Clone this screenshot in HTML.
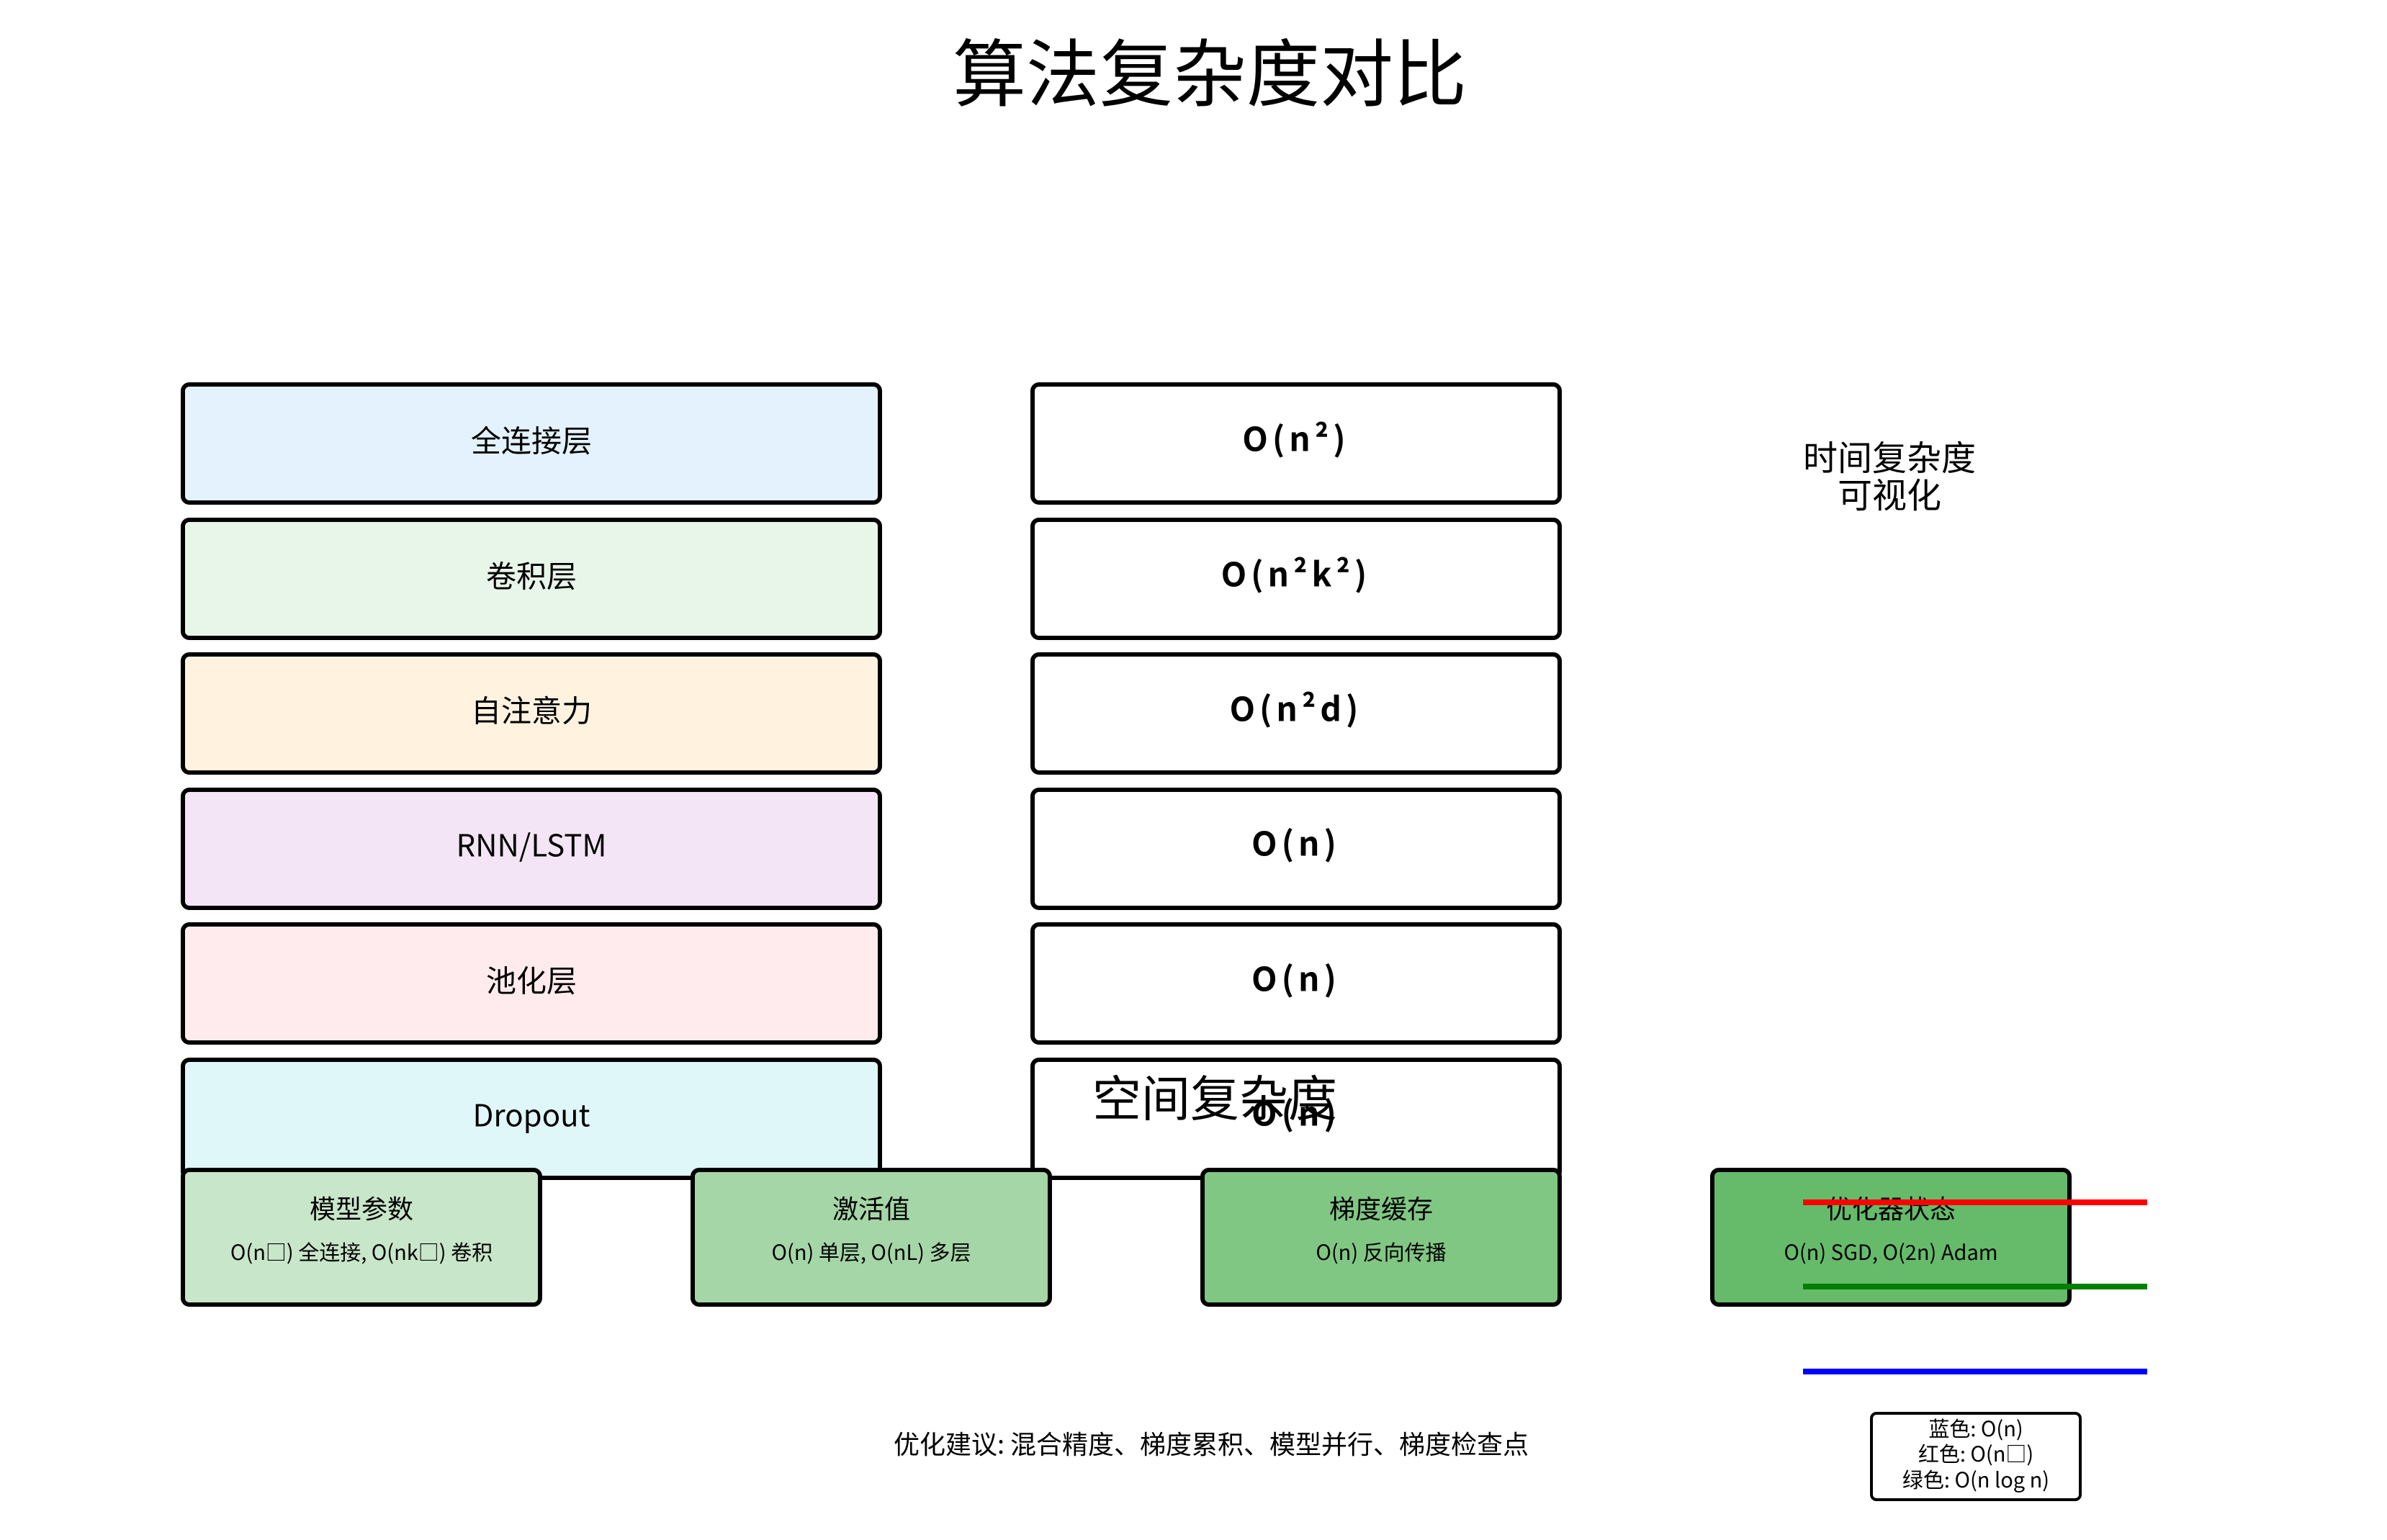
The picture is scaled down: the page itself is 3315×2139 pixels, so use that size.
<!DOCTYPE html>
<html><head><meta charset="utf-8"><style>
html,body{margin:0;padding:0;background:#fff}
svg{display:block}
text{font-family:"WenQuanYi Zen Hei","Noto Sans CJK SC","Liberation Sans",sans-serif;fill:#000}
</style></head><body>
<svg width="3315" height="2139" viewBox="0 0 3315 2139" xmlns="http://www.w3.org/2000/svg">
<text x="1680" y="112" font-size="102" text-anchor="middle" dominant-baseline="middle">算法复杂度对比</text>
<g stroke="#000" stroke-width="6">
<rect x="254" y="534" width="968" height="164" rx="9" fill="#e3f2fd"/>
<rect x="254" y="722" width="968" height="164" rx="9" fill="#e8f5e9"/>
<rect x="254" y="909" width="968" height="164" rx="9" fill="#fff3e0"/>
<rect x="254" y="1097" width="968" height="164" rx="9" fill="#f3e5f5"/>
<rect x="254" y="1284" width="968" height="164" rx="9" fill="#ffebee"/>
<rect x="254" y="1472" width="968" height="164" rx="9" fill="#e0f7fa"/>
<rect x="1434" y="534" width="732" height="164" rx="9" fill="#fff"/>
<rect x="1434" y="722" width="732" height="164" rx="9" fill="#fff"/>
<rect x="1434" y="909" width="732" height="164" rx="9" fill="#fff"/>
<rect x="1434" y="1097" width="732" height="164" rx="9" fill="#fff"/>
<rect x="1434" y="1284" width="732" height="164" rx="9" fill="#fff"/>
<rect x="1434" y="1472" width="732" height="164" rx="9" fill="#fff"/>
</g>
<g font-size="42" text-anchor="middle" dominant-baseline="middle">
<text x="738" y="616">全连接层</text>
<text x="738" y="804">卷积层</text>
<text x="738" y="991">自注意力</text>
<text x="738" y="1178">RNN/LSTM</text>
<text x="738" y="1366">池化层</text>
<text x="738" y="1553">Dropout</text>
</g>
<g font-size="46" font-weight="bold" text-anchor="middle" dominant-baseline="middle" letter-spacing="6">
<text x="1800" y="614">O(n²)</text>
<text x="1800" y="802">O(n²k²)</text>
<text x="1800" y="989">O(n²d)</text>
<text x="1800" y="1176">O(n)</text>
<text x="1800" y="1364">O(n)</text>
<text x="1800" y="1551">O(n)</text>
</g>
<text x="1517" y="1532" font-size="68" dominant-baseline="middle">空间复杂度</text>
<text x="2624" y="640" font-size="48" text-anchor="middle" dominant-baseline="middle">时间复杂度</text>
<text x="2624" y="692" font-size="48" text-anchor="middle" dominant-baseline="middle">可视化</text>
<g stroke="#000" stroke-width="6">
<rect x="254" y="1625" width="496" height="187" rx="9" fill="#c8e6c9"/>
<rect x="962" y="1625" width="496" height="187" rx="9" fill="#a5d6a7"/>
<rect x="1670" y="1625" width="496" height="187" rx="9" fill="#81c784"/>
<rect x="2378" y="1625" width="496" height="187" rx="9" fill="#66bb6a"/>
</g>
<g text-anchor="middle" dominant-baseline="middle">
<text x="502" y="1682" font-size="36">模型参数</text>
<text x="502" y="1742" font-size="29">O(n□) 全连接, O(nk□) 卷积</text>
<text x="1210" y="1682" font-size="36">激活值</text>
<text x="1210" y="1742" font-size="29">O(n) 单层, O(nL) 多层</text>
<text x="1918" y="1682" font-size="36">梯度缓存</text>
<text x="1918" y="1742" font-size="29">O(n) 反向传播</text>
<text x="2626" y="1682" font-size="36">优化器状态</text>
<text x="2626" y="1742" font-size="29">O(n) SGD, O(2n) Adam</text>
</g>
<g stroke-width="8">
<line x1="2504" y1="1670" x2="2982" y2="1670" stroke="#ff0000"/>
<line x1="2504" y1="1787" x2="2982" y2="1787" stroke="#008000"/>
<line x1="2504" y1="1905" x2="2982" y2="1905" stroke="#0000ff"/>
</g>
<rect x="2599" y="1963" width="290" height="120" rx="7" fill="#fff" stroke="#000" stroke-width="4"/>
<g font-size="29" text-anchor="middle" dominant-baseline="middle">
<text x="2744" y="1987">蓝色: O(n)</text>
<text x="2744" y="2022">红色: O(n□)</text>
<text x="2744" y="2058">绿色: O(n log n)</text>
</g>
<text x="1682" y="2009" font-size="36" text-anchor="middle" dominant-baseline="middle">优化建议: 混合精度、梯度累积、模型并行、梯度检查点</text>
</svg>
</body></html>
